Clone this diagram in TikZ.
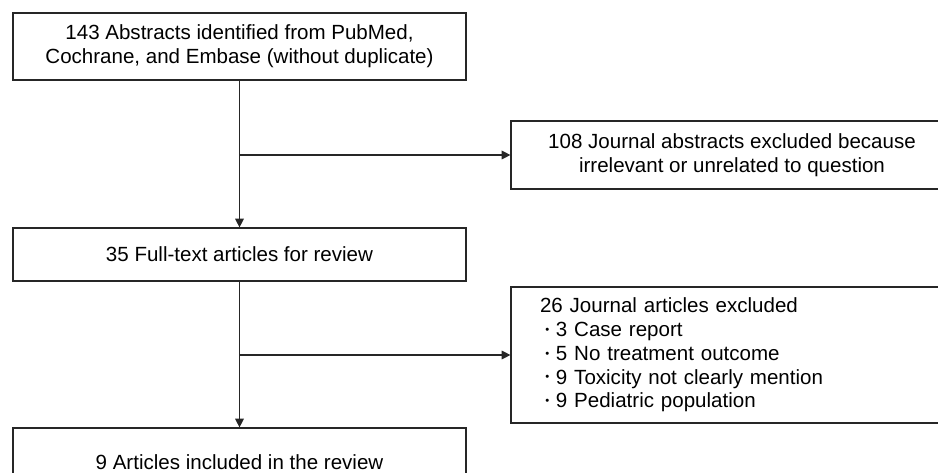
\documentclass[tikz,border=0pt]{standalone}
\usepackage{fontspec}
\setmainfont{Liberation Sans}
\usepackage{tikz}
\usetikzlibrary{arrows.meta}
\newcommand{\dotitem}{\hspace*{4pt}\raisebox{0.3ex}{\scalebox{0.55}{\textbullet}}\hspace{5pt}}

\begin{document}
\begin{tikzpicture}[x=0.75pt, y=-0.75pt,
	every node/.style={font=\fontsize{15.4}{17.8}\selectfont},
	box/.style={draw=black!85, line width=0.9pt, align=center, inner sep=0pt},
	flow/.style={draw=black!85, line width=0.9pt, -{Triangle[length=6.5pt,width=6.5pt]}}]
	\clip (0,0) rectangle (938,473);
	\node [box, minimum width=339.75pt, minimum height=50.25pt] (abs) at (239.5,46.5)
		{143 Abstracts identified from PubMed,\\Cochrane, and Embase (without duplicate)};
	\node [box, minimum width=331.5pt, minimum height=51pt] (excl1) at (732,155)
		{108 Journal abstracts excluded because\\irrelevant or unrelated to question};
	\node [box, minimum width=339.75pt, minimum height=39.75pt] (full) at (239.5,254.5)
		{35 Full-text articles for review};
	\node [box, text width=288pt, inner xsep=21.75pt, align=left, minimum height=102pt] (excl2) at (732,355)
		{26 Journal articles excluded\\
		\dotitem 3 Case report\\
		\dotitem 5 No treatment outcome\\
		\dotitem 9 Toxicity not clearly mention\\
		\dotitem 9 Pediatric population};
	\node [box, minimum width=339.75pt, minimum height=51pt] (incl) at (239.5,462)
		{9 Articles included in the review};
	% main line
	\draw [flow] (abs.south) -- (full.north);
	\draw [flow] (abs.south |- excl1.west) -- (excl1.west);
	\draw [flow] (full.south) -- (incl.north);
	\draw [flow] (full.south |- excl2.west) -- (excl2.west);
\end{tikzpicture}
\end{document}
